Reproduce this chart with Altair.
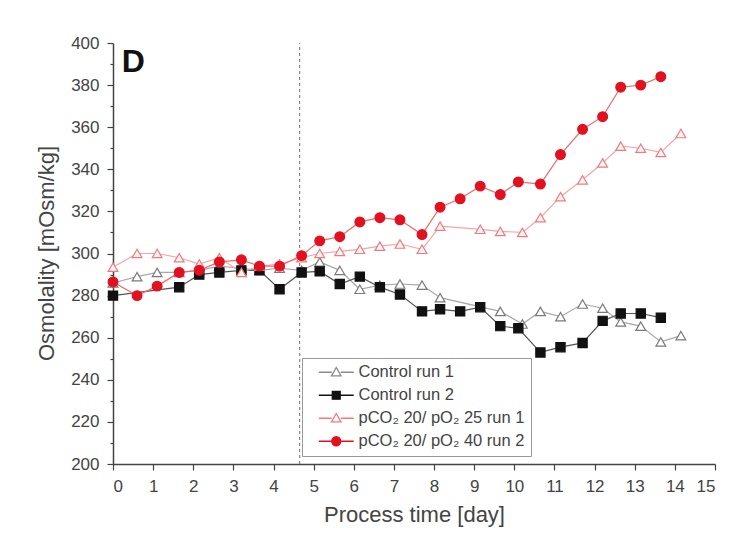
import altair as alt
import pandas as pd

# ---------------- data ----------------
series_names = ["Control run 1", "Control run 2",
                "pCO\u2082 20/ pO\u2082 25 run 1", "pCO\u2082 20/ pO\u2082 40 run 2"]

ctrl1_day = [0, 0.6, 1.1, 1.65, 2.15, 2.65, 3.2, 3.65, 4.15, 4.7, 5.15, 5.65, 6.15, 6.65,
             7.15, 7.7, 8.15, 9.65, 10.2, 10.65, 11.15, 11.7, 12.2, 12.65, 13.15, 13.65, 14.15]
ctrl1_osm = [286, 289, 291, 291, 292, 294, 293, 292, 293, 292, 296, 292, 283, 285,
             285.5, 285, 279, 272.5, 266.5, 272.5, 270, 276, 274, 267.5, 265.5, 258, 261]

ctrl2_day = [0, 1.65, 2.15, 2.65, 3.2, 3.65, 4.15, 4.7, 5.15, 5.65, 6.15, 6.65, 7.15, 7.7,
             8.15, 8.65, 9.15, 9.65, 10.1, 10.65, 11.15, 11.7, 12.2, 12.65, 13.15, 13.65]
ctrl2_osm = [280, 284, 290, 291, 292, 292, 283, 291, 291.5, 285.5, 289, 284, 280.5, 272.5,
             273.5, 272.5, 274.5, 265.5, 264.5, 253, 255.5, 257.5, 268, 271.5, 271.5, 269.5]

p25_day = [0, 0.6, 1.1, 1.65, 2.15, 2.65, 3.2, 3.65, 4.15, 4.7, 5.15, 5.65, 6.15, 6.65,
           7.15, 7.7, 8.15, 9.15, 9.65, 10.2, 10.65, 11.15, 11.7, 12.2, 12.65, 13.15, 13.65, 14.15]
p25_osm = [293.5, 300, 300, 298, 295, 298, 291, 294, 295, 298, 300, 301, 302, 303.5,
           304.5, 302, 313, 311.5, 310.5, 310, 317, 327, 335, 343, 351, 350, 348, 357]

p40_day = [0, 0.6, 1.1, 1.65, 2.15, 2.65, 3.2, 3.65, 4.15, 4.7, 5.15, 5.65, 6.15, 6.65,
           7.15, 7.7, 8.15, 8.65, 9.15, 9.65, 10.1, 10.65, 11.15, 11.7, 12.2, 12.65, 13.15, 13.65]
p40_osm = [286.5, 280, 284.5, 291, 292, 296, 297, 294, 294, 299, 306, 308, 315, 317,
           316, 309, 322, 326, 332, 328, 334, 333, 347, 359, 365, 379, 380, 384]

shift_day = [4.65]          # dashed vertical marker
panel_label = ["D"]

# ---------------- build table ----------------
frames = []
for name, d, v in zip(series_names,
                      [ctrl1_day, ctrl2_day, p25_day, p40_day],
                      [ctrl1_osm, ctrl2_osm, p25_osm, p40_osm]):
    frames.append(pd.DataFrame({"day": d, "osm": v, "series": name}))
df = pd.concat(frames, ignore_index=True)

FONT = "Liberation Sans"

x_scale = alt.Scale(domain=[0, 15], nice=False, zero=False)
y_scale = alt.Scale(domain=[200, 400], nice=False, zero=False)

x_axis = alt.Axis(
    values=list(range(0, 16)), grid=False, tickSize=6, tickColor="#444",
    domainColor="#444", domainWidth=1.5, tickWidth=1.2,
    labelFont=FONT, labelFontSize=17, labelColor="#444", labelPadding=8,
    title="Process time [day]", titleFont=FONT, titleFontSize=22,
    titleFontWeight="normal", titleColor="#444", titleX=301, titleY=50,
    titleBaseline="middle", titleAnchor="middle",
)
y_axis = alt.Axis(
    values=list(range(200, 401, 10)), grid=False,
    tickSize={"condition": {"test": "datum.value % 20 === 0", "value": 6}, "value": 3},
    tickColor="#444", domainColor="#444", domainWidth=1.5, tickWidth=1.2,
    labelExpr="datum.value % 20 === 0 ? datum.label : ''",
    labelFont=FONT, labelFontSize=17, labelColor="#444", labelPadding=8,
    title="Osmolality [mOsm/kg]", titleFont=FONT, titleFontSize=22,
    titleFontWeight="normal", titleColor="#444", titleX=-67, titleY=210,
    titleBaseline="middle", titleAngle=-90, titleAnchor="middle",
)

X = alt.X("day:Q", scale=x_scale, axis=x_axis, title="Process time [day]")
Y = alt.Y("osm:Q", scale=y_scale, axis=y_axis, title="Osmolality [mOsm/kg]")

styles = [
    dict(line="#a8a8a8", shape="triangle-up", stroke="#7a7a7a", fill="#ffffff", size=95),
    dict(line="#555555", shape="square", stroke="#111111", fill="#111111", size=85),
    dict(line="#f5a5a5", shape="triangle-up", stroke="#ee7b80", fill="#fff5f5", size=95),
    dict(line="#f06a6a", shape="circle", stroke="#e3101f", fill="#e3101f", size=95),
]

base = alt.Chart(df)

# dashed vertical line
rule_df = pd.DataFrame({"day": shift_day, "osm": [200], "osm2": [400]})
rule = alt.Chart(rule_df).mark_rule(color="#888888", strokeDash=[3, 3], strokeWidth=1.2).encode(
    x=X, y=Y, y2="osm2:Q")

layers = [rule]
for name, st in zip(series_names, styles):
    sub = base.transform_filter(alt.datum.series == name)
    layers.append(sub.mark_line(color=st["line"], strokeWidth=1.2).encode(x=X, y=Y))
for name, st in zip(series_names, styles):
    sub = base.transform_filter(alt.datum.series == name)
    layers.append(sub.mark_point(shape=st["shape"], fill=st["fill"], stroke=st["stroke"],
                                 fillOpacity=1, opacity=1, strokeWidth=1.2,
                                 size=st["size"]).encode(x=X, y=Y))

# panel letter
label_df = pd.DataFrame({"day": [0.22], "osm": [391], "txt": panel_label})
letter = alt.Chart(label_df).mark_text(align="left", baseline="middle", fontSize=32,
                                       fontWeight="bold", font=FONT, color="#111").encode(
    x=X, y=Y, text="txt:N")
layers.append(letter)

# legend-only layer (symbols with line stubs like the original)
leg_paths = [
    "M-3.1,0H-0.8M0.8,0H3.1M0,-0.85L0.85,0.65L-0.85,0.65Z",
    "M-3.1,0H-0.7M0.7,0H3.1M-0.7,-0.7H0.7V0.7H-0.7Z",
    "M-3.1,0H-0.8M0.8,0H3.1M0,-0.85L0.85,0.65L-0.85,0.65Z",
    "M-3.1,0H-0.8M0.8,0H3.1M0.8,0A0.8,0.8,0,1,1,-0.8,0A0.8,0.8,0,1,1,0.8,0Z",
]
legend = alt.Legend(
    title=None, orient="none", legendX=189, legendY=315,
    strokeColor="#9a9a9a", fillColor="#ffffff", padding=6, cornerRadius=0,
    labelFont=FONT, labelFontSize=16.5, labelColor="#444", labelLimit=400,
    symbolSize=127, symbolStrokeWidth=1.3, symbolOffset=20, labelOffset=14,
    rowPadding=6,
)
leg_layer = base.transform_filter("false").mark_point(filled=True, opacity=1).encode(
    shape=alt.Shape("series:N", scale=alt.Scale(domain=series_names, range=leg_paths),
                    legend=legend, sort=series_names),
    stroke=alt.Stroke("series:N", scale=alt.Scale(domain=series_names,
                      range=["#8a8a8a", "#111111", "#ee7b80", "#e3101f"]),
                      legend=legend, sort=series_names),
    fill=alt.Fill("series:N", scale=alt.Scale(domain=series_names,
                  range=["#ffffff", "#111111", "#ffffff", "#e3101f"]),
                  legend=legend, sort=series_names),
)
layers.append(leg_layer)

chart = alt.layer(*layers).properties(
    width=602, height=421,
    autosize=alt.AutoSizeParams(type="none"),
    padding={"left": 105, "top": 35, "right": 11, "bottom": 70},
    background="white",
).configure_view(stroke=None)

chart.save("out.html", embed_options={"renderer": "svg", "actions": False})
